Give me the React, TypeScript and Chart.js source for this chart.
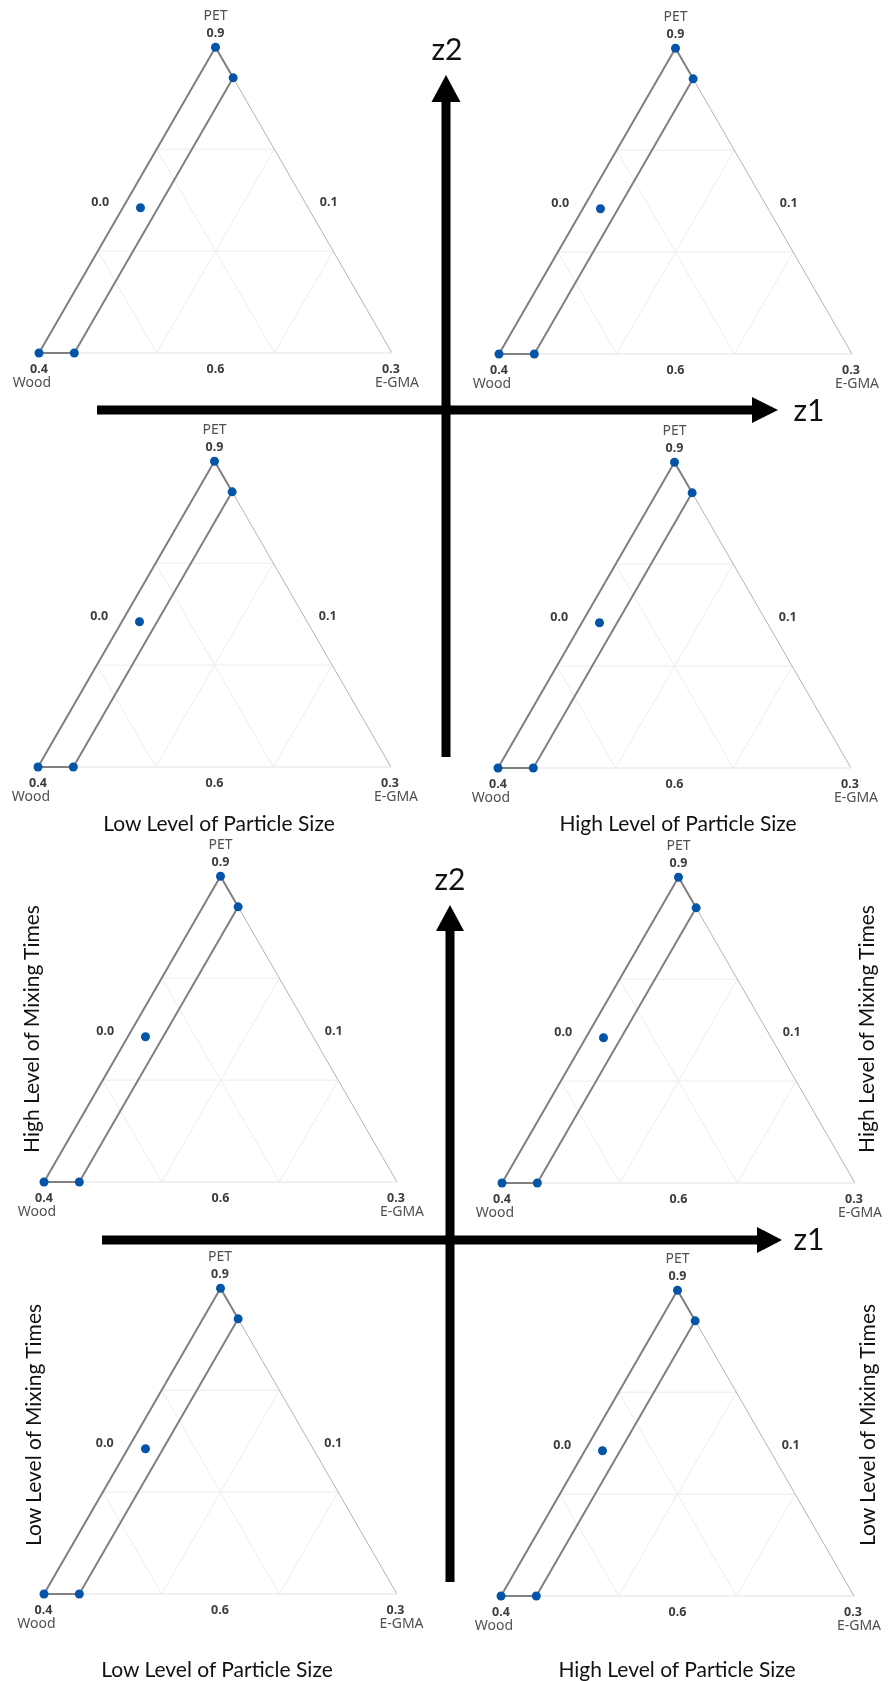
import React, { useEffect, useRef, useState } from 'react';
import { Chart, registerables } from 'chart.js';

Chart.register(...registerables);

// ---------- data ----------
const components = ['PET', 'Wood', 'E-GMA'];
const vertexTicks = ['0.9', '0.4', '0.3']; // PET (top), Wood (bottom-left), E-GMA (bottom-right)
const edgeTicks = ['0.0', '0.1', '0.6']; // left edge, right edge, bottom edge

// design region vertices + centroid, in pseudo-component fractions
const designPET = [1.0, 0.9, 0.0, 0.0, 0.475];
const designWood = [0.0, 0.0, 0.9, 1.0, 0.475];
const designEGMA = [0.0, 0.1, 0.1, 0.0, 0.05];
const regionOrder = [0, 1, 2, 3, 0];

const gridLevels = [1 / 3, 2 / 3];

const particleSizeLevels = ['Low Level of Particle Size', 'High Level of Particle Size'];
const mixingTimeLevels = ['High Level of Mixing Times', 'Low Level of Mixing Times'];
const factorNames = ['z1', 'z2'];

// ---------- helpers ----------
const SQ = Math.sqrt(3) / 2;
const tern = (p: number, w: number, e: number) => ({ x: e + p / 2, y: p * SQ });

const AREA_W = 353;
const AREA_H = 306;
const PAD = { left: 50, top: 45, right: 50, bottom: 45 };
const CW = AREA_W + PAD.left + PAD.right;
const CH = AREA_H + PAD.top + PAD.bottom;

const BLUE = '#0454a8';
const GRID = '#ececec';
const EDGE = '#b2b2b2';

function lineDs(points: { x: number; y: number }[], color: string, width: number, order: number) {
  return {
    data: points,
    showLine: true,
    borderColor: color,
    borderWidth: width,
    pointRadius: 0,
    pointHoverRadius: 0,
    fill: false,
    tension: 0,
    clip: false as const,
    order,
  };
}

function buildDatasets() {
  const ds: any[] = [];
  // grid lines
  gridLevels.forEach((k) => {
    ds.push(lineDs([tern(k, 1 - k, 0), tern(k, 0, 1 - k)], GRID, 1, 5));
    ds.push(lineDs([tern(1 - k, k, 0), tern(0, k, 1 - k)], GRID, 1, 5));
    ds.push(lineDs([tern(1 - k, 0, k), tern(0, 1 - k, k)], GRID, 1, 5));
  });
  // triangle edges
  ds.push(lineDs([tern(0, 1, 0), tern(0, 0, 1)], '#e2e2e2', 1, 4));
  ds.push(lineDs([tern(1, 0, 0), tern(0, 0, 1)], EDGE, 1, 4));
  ds.push(lineDs([tern(0, 1, 0), tern(1, 0, 0)], EDGE, 1, 4));
  // design region
  ds.push(
    lineDs(
      regionOrder.map((i) => tern(designPET[i], designWood[i], designEGMA[i])),
      '#808080',
      2,
      2
    )
  );
  // design points
  ds.push({
    data: designPET.map((p, i) => tern(p, designWood[i], designEGMA[i])),
    showLine: false,
    pointRadius: 4.5,
    pointHoverRadius: 4.5,
    pointBackgroundColor: BLUE,
    pointBorderWidth: 0,
    backgroundColor: BLUE,
    borderWidth: 0,
    clip: false as const,
    order: 0,
  });
  return ds;
}

type Lbl = { x: number; y: number; text: string; kind: 'name' | 'tick' };

function TernaryPanel({ left, base }: { left: number; base: number }) {
  const ref = useRef<HTMLCanvasElement>(null);
  const [labels, setLabels] = useState<Lbl[]>([]);
  useEffect(() => {
    if (!ref.current) return;
    const chart = new Chart(ref.current, {
      type: 'scatter',
      data: { datasets: buildDatasets() },
      options: {
        responsive: false,
        maintainAspectRatio: false,
        animation: false,
        events: [],
        layout: { padding: PAD },
        plugins: { legend: { display: false }, tooltip: { enabled: false } },
        scales: {
          x: { type: 'linear', min: 0, max: 1, display: false },
          y: { type: 'linear', min: 0, max: AREA_H / AREA_W, display: false },
        },
      },
    } as any);
    const xs = chart.scales.x;
    const ys = chart.scales.y;
    const P = (p: number, w: number, e: number) => {
      const c = tern(p, w, e);
      return [xs.getPixelForValue(c.x), ys.getPixelForValue(c.y)];
    };
    const top = P(1, 0, 0);
    const bl = P(0, 1, 0);
    const br = P(0, 0, 1);
    const lm = P(0.5, 0.5, 0);
    const rm = P(0.5, 0, 0.5);
    const bm = P(0, 0.5, 0.5);
    setLabels([
      { x: top[0], y: top[1] - 32, text: components[0], kind: 'name' },
      { x: bl[0] - 7, y: bl[1] + 29, text: components[1], kind: 'name' },
      { x: br[0] + 5, y: br[1] + 29, text: components[2], kind: 'name' },
      { x: top[0], y: top[1] - 14, text: vertexTicks[0], kind: 'tick' },
      { x: bl[0], y: bl[1] + 16, text: vertexTicks[1], kind: 'tick' },
      { x: br[0] - 1, y: br[1] + 16, text: vertexTicks[2], kind: 'tick' },
      { x: lm[0] - 27, y: lm[1] + 2, text: edgeTicks[0], kind: 'tick' },
      { x: rm[0] + 25, y: rm[1] + 2, text: edgeTicks[1], kind: 'tick' },
      { x: bm[0], y: bm[1] + 16, text: edgeTicks[2], kind: 'tick' },
    ]);
    return () => chart.destroy();
  }, []);
  return (
    <div
      style={{
        position: 'absolute',
        left: left - PAD.left,
        top: base - AREA_H - PAD.top,
        width: CW,
        height: CH,
      }}
    >
      <canvas ref={ref} width={CW} height={CH} style={{ position: 'absolute', left: 0, top: 0, width: CW, height: CH }} />
      {labels.map((l, i) => (
        <div
          key={i}
          style={{
            position: 'absolute',
            left: l.x,
            top: l.y,
            transform: 'translate(-50%, -50%)',
            fontFamily: '"Noto Sans", "Open Sans", sans-serif',
            fontSize: l.kind === 'name' ? 14 : 12.5,
            fontWeight: l.kind === 'name' ? 400 : 700,
            color: l.kind === 'name' ? '#505050' : '#3c3c3c',
            lineHeight: 1,
            whiteSpace: 'nowrap',
          }}
        >
          {l.text}
        </div>
      ))}
    </div>
  );
}

// panel placement: left = x of Wood vertex, base = y of bottom edge
const panels = [
  { left: 39, base: 353 },
  { left: 499, base: 354 },
  { left: 38, base: 767 },
  { left: 498, base: 768 },
  { left: 44, base: 1182 },
  { left: 502, base: 1183 },
  { left: 43.5, base: 1594 },
  { left: 501, base: 1596 },
];

const TITLE_FONT = 'Lato, "Noto Sans", sans-serif';

function Txt({ x, y, text, size, rotate }: { x: number; y: number; text: string; size: number; rotate?: boolean }) {
  return (
    <div
      style={{
        position: 'absolute',
        left: x,
        top: y,
        transform: `translate(-50%, -50%)${rotate ? ' rotate(-90deg)' : ''}`,
        fontFamily: TITLE_FONT,
        fontSize: size,
        lineHeight: 1,
        color: '#111',
        whiteSpace: 'nowrap',
      }}
    >
      {text}
    </div>
  );
}

function Arrows() {
  const h = [
    { x0: 97, x1: 752, tip: 778, y: 410, hh: 13 },
    { x0: 102, x1: 757, tip: 782, y: 1240, hh: 13 },
  ];
  const v = [
    { y0: 757, y1: 102, tip: 75, x: 446, hw: 14.5 },
    { y0: 1582, y1: 931, tip: 905, x: 450, hw: 14 },
  ];
  return (
    <svg width={889} height={1681} style={{ position: 'absolute', left: 0, top: 0 }}>
      {h.map((a, i) => (
        <g key={'h' + i}>
          <rect x={a.x0} y={a.y - 4.5} width={a.x1 - a.x0 + 1} height={9} fill="#000" />
          <polygon points={`${a.x1},${a.y - a.hh} ${a.tip},${a.y} ${a.x1},${a.y + a.hh}`} fill="#000" />
        </g>
      ))}
      {v.map((a, i) => (
        <g key={'v' + i}>
          <rect x={a.x - 4.5} y={a.y1 - 1} width={9} height={a.y0 - a.y1 + 1} fill="#000" />
          <polygon points={`${a.x - a.hw},${a.y1} ${a.x},${a.tip} ${a.x + a.hw},${a.y1}`} fill="#000" />
        </g>
      ))}
    </svg>
  );
}

export default function App() {
  return (
    <div
      style={{
        position: 'absolute',
        left: 0,
        top: 0,
        width: 889,
        height: 1681,
        background: '#fff',
        overflow: 'hidden',
      }}
    >
      {panels.map((p, i) => (
        <TernaryPanel key={i} left={p.left} base={p.base} />
      ))}
      <Arrows />
      <Txt x={447} y={48} text={factorNames[1]} size={30} />
      <Txt x={809} y={409} text={factorNames[0]} size={30} />
      <Txt x={450} y={878} text={factorNames[1]} size={30} />
      <Txt x={809} y={1238} text={factorNames[0]} size={30} />

      <Txt x={219} y={822} text={particleSizeLevels[0]} size={21} />
      <Txt x={678} y={822} text={particleSizeLevels[1]} size={21} />
      <Txt x={217} y={1668} text={particleSizeLevels[0]} size={21} />
      <Txt x={677} y={1668} text={particleSizeLevels[1]} size={21} />

      <Txt x={30} y={1029} text={mixingTimeLevels[0]} size={21} rotate />
      <Txt x={865} y={1029} text={mixingTimeLevels[0]} size={21} rotate />
      <Txt x={32} y={1425} text={mixingTimeLevels[1]} size={21} rotate />
      <Txt x={866} y={1425} text={mixingTimeLevels[1]} size={21} rotate />
    </div>
  );
}
